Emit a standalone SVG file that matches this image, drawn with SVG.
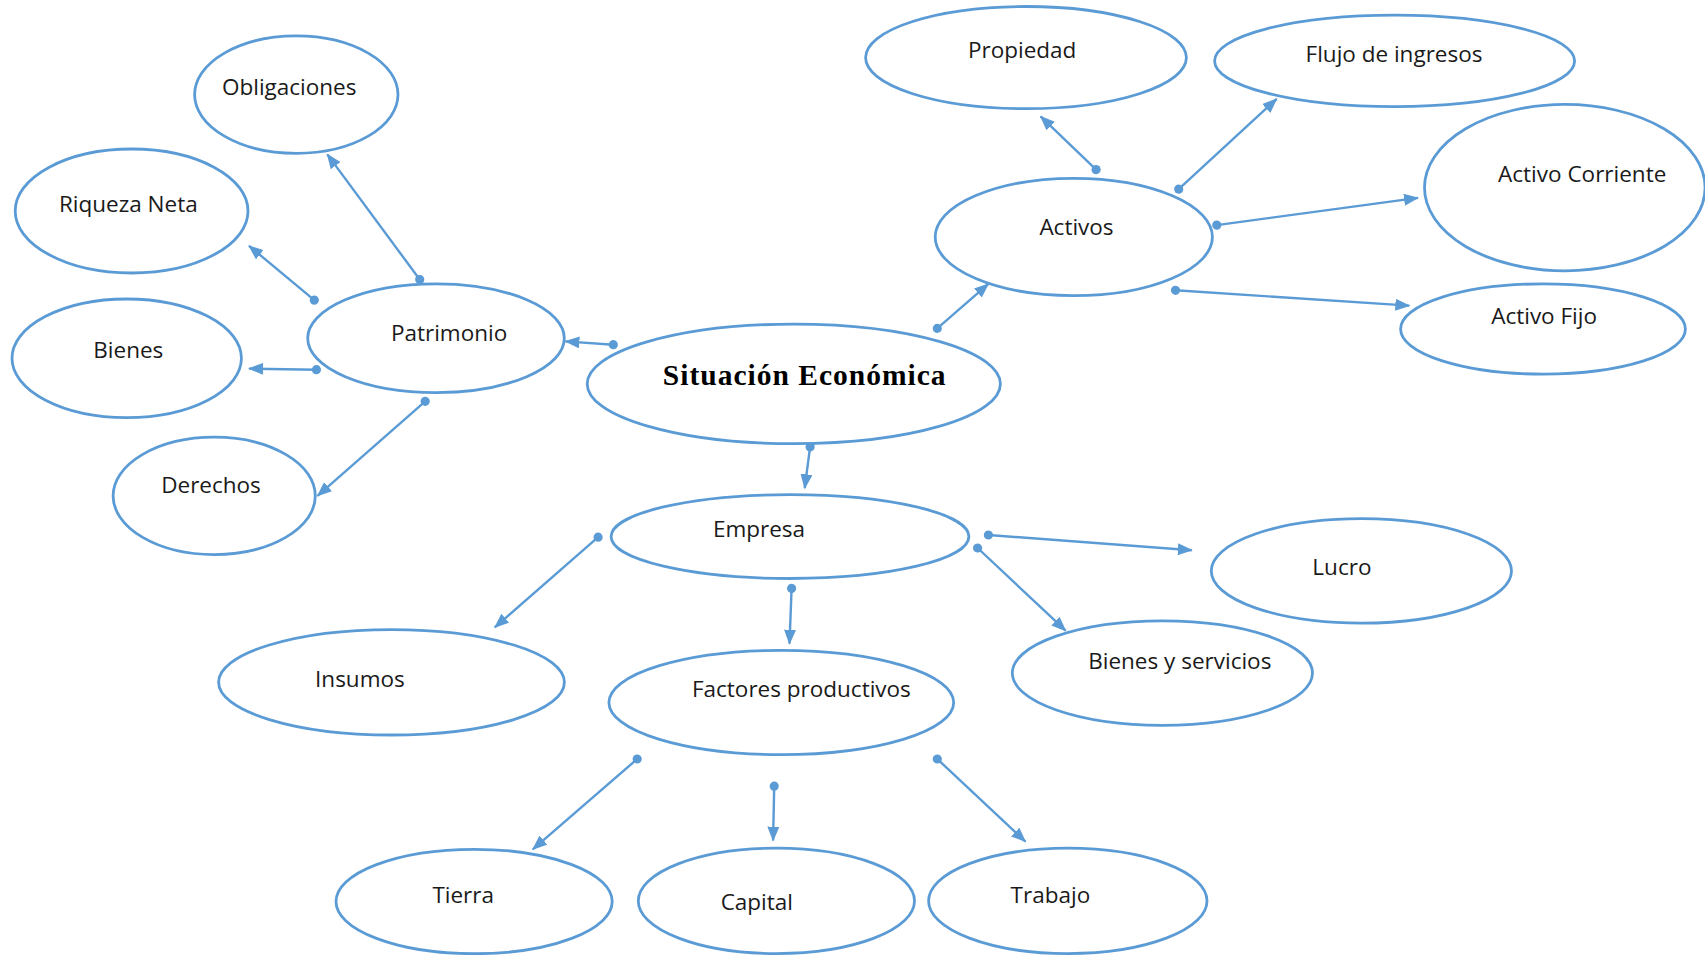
<svg xmlns="http://www.w3.org/2000/svg" width="1705" height="955" viewBox="0 0 1705 955">
<defs>
<style>
.n ellipse{fill:#fff;stroke:#5B9BD5;stroke-width:2.8}
.n text{font-family:"Open Sans","Noto Sans",sans-serif;font-size:22.5px;fill:#1a1a1a;text-anchor:middle}
.n text.main{font-family:"Liberation Serif","Times New Roman",serif;font-size:29.5px;font-weight:bold;letter-spacing:1px;fill:#000}
#connectors line{stroke:#5B9BD5;stroke-width:2.4;marker-start:url(#dot);marker-end:url(#arrow)}
</style>
<marker id="arrow" markerUnits="userSpaceOnUse" markerWidth="16" markerHeight="12" refX="14" refY="6" orient="auto">
<path d="M0,0 L15,6 L0,12 z" fill="#5B9BD5"/>
</marker>
<marker id="dot" markerUnits="userSpaceOnUse" markerWidth="12" markerHeight="12" refX="6" refY="6" orient="auto">
<circle cx="6" cy="6" r="4.6" fill="#5B9BD5"/>
</marker>
</defs>
<rect width="1705" height="955" fill="#fff"/>
<g id="connectors">
<line x1="613.3" y1="344.7" x2="565.4" y2="341.4"/>
<line x1="937.3" y1="328.4" x2="988.4" y2="283.8"/>
<line x1="810.1" y1="446.9" x2="804.7" y2="488.2"/>
<line x1="419.7" y1="279.5" x2="327.3" y2="154.4"/>
<line x1="314.3" y1="300.1" x2="249" y2="245.8"/>
<line x1="316.4" y1="369.7" x2="249" y2="368.6"/>
<line x1="425.2" y1="401.3" x2="317.5" y2="495.9"/>
<line x1="1096.1" y1="169.6" x2="1040.6" y2="116.4"/>
<line x1="1178.7" y1="189.2" x2="1276.6" y2="99"/>
<line x1="1216.8" y1="225.1" x2="1418" y2="197.9"/>
<line x1="1175.5" y1="290.3" x2="1409.3" y2="305.6"/>
<line x1="598.1" y1="537.2" x2="494.8" y2="627.4"/>
<line x1="791.6" y1="588.3" x2="789.5" y2="643.7"/>
<line x1="988.4" y1="535" x2="1191.8" y2="550.2"/>
<line x1="977.6" y1="548" x2="1065.7" y2="630.7"/>
<line x1="637.2" y1="759" x2="532.8" y2="849.3"/>
<line x1="774.2" y1="786.2" x2="773.1" y2="840.6"/>
<line x1="937.3" y1="759" x2="1025.4" y2="841.6"/>
</g>
<g id="obligaciones" class="n"><ellipse cx="296.3" cy="94.6" rx="101.7" ry="58.7"/><text x="289.2" y="95">Obligaciones</text></g>
<g id="riqueza-neta" class="n"><ellipse cx="131.6" cy="211" rx="116.4" ry="62"/><text x="128.3" y="212.4">Riqueza Neta</text></g>
<g id="bienes" class="n"><ellipse cx="126.7" cy="358.3" rx="114.7" ry="59.3"/><text x="128.3" y="358">Bienes</text></g>
<g id="derechos" class="n"><ellipse cx="214.2" cy="495.9" rx="101.1" ry="58.7"/><text x="211" y="493">Derechos</text></g>
<g id="patrimonio" class="n"><ellipse cx="436" cy="338.2" rx="128.3" ry="54.4"/><text x="449.1" y="340.7">Patrimonio</text></g>
<g id="situacion-economica" class="n"><ellipse cx="793.8" cy="383.9" rx="206.6" ry="59.8"/><text class="main" x="804.7" y="385">Situación Económica</text></g>
<g id="propiedad" class="n"><ellipse cx="1026" cy="57.6" rx="160.4" ry="51.1"/><text x="1022.2" y="58">Propiedad</text></g>
<g id="flujo-de-ingresos" class="n"><ellipse cx="1394.6" cy="60.9" rx="180" ry="45.7"/><text x="1394" y="62.4">Flujo de ingresos</text></g>
<g id="activos" class="n"><ellipse cx="1073.8" cy="237" rx="138.6" ry="58.7"/><text x="1076.5" y="235.3">Activos</text></g>
<g id="activo-corriente" class="n"><ellipse cx="1564.8" cy="187.6" rx="140.3" ry="83.2"/><text x="1582.2" y="182">Activo Corriente</text></g>
<g id="activo-fijo" class="n"><ellipse cx="1543" cy="329" rx="142.4" ry="45.1"/><text x="1544.1" y="324.4">Activo Fijo</text></g>
<g id="empresa" class="n"><ellipse cx="790" cy="536.6" rx="178.9" ry="41.9"/><text x="759" y="536.5">Empresa</text></g>
<g id="lucro" class="n"><ellipse cx="1361.4" cy="570.9" rx="150.1" ry="52.2"/><text x="1341.9" y="574.5">Lucro</text></g>
<g id="bienes-y-servicios" class="n"><ellipse cx="1162.4" cy="673.1" rx="150.1" ry="52.2"/><text x="1179.8" y="669">Bienes y servicios</text></g>
<g id="insumos" class="n"><ellipse cx="391.5" cy="682.3" rx="172.9" ry="52.7"/><text x="359.9" y="686.5">Insumos</text></g>
<g id="factores-productivos" class="n"><ellipse cx="781.3" cy="702.5" rx="172.4" ry="52.2"/><text x="801.4" y="697.4">Factores productivos</text></g>
<g id="tierra" class="n"><ellipse cx="474.1" cy="901.5" rx="138.1" ry="52.2"/><text x="463.2" y="903">Tierra</text></g>
<g id="capital" class="n"><ellipse cx="776.4" cy="900.9" rx="138.1" ry="52.7"/><text x="756.8" y="909.5">Capital</text></g>
<g id="trabajo" class="n"><ellipse cx="1067.8" cy="900.9" rx="139.2" ry="52.7"/><text x="1050.4" y="903">Trabajo</text></g>
</svg>
